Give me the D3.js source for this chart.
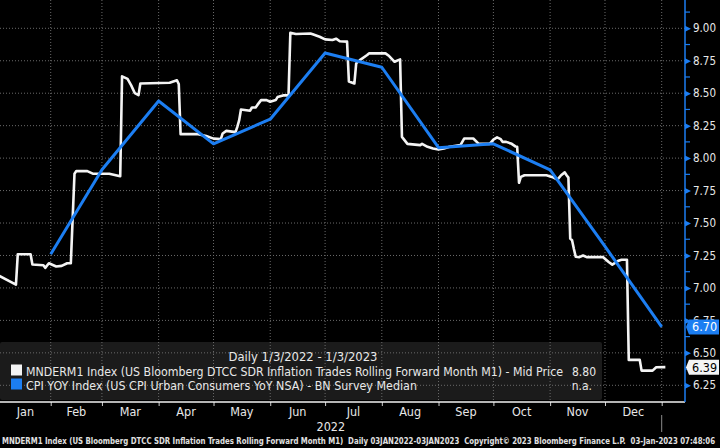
<!DOCTYPE html>
<html><head><meta charset="utf-8">
<script src="https://cdn.jsdelivr.net/npm/d3@7"></script>
<style>
html,body{margin:0;padding:0;background:#000;}
svg{display:block;}
text{font-family:"DejaVu Sans Condensed","Liberation Sans Narrow","Roboto Condensed","DejaVu Sans",sans-serif;}
</style></head><body>
<svg id="c" width="720" height="448"></svg>
<script>
// ---------- DATA ----------
const mndDates = ["2022-01-03","2022-01-13","2022-01-14","2022-01-21","2022-01-22","2022-01-28","2022-01-29","2022-01-31","2022-02-04","2022-02-07","2022-02-10","2022-02-12","2022-02-14","2022-02-15","2022-02-21","2022-02-24","2022-03-05","2022-03-11","2022-03-12","2022-03-15","2022-03-17","2022-03-19","2022-03-21","2022-03-22","2022-04-07","2022-04-11","2022-04-12","2022-04-13","2022-04-22","2022-04-27","2022-05-01","2022-05-05","2022-05-06","2022-05-08","2022-05-13","2022-05-14","2022-05-15","2022-05-16","2022-05-21","2022-05-22","2022-05-24","2022-05-25","2022-05-27","2022-05-30","2022-06-01","2022-06-04","2022-06-05","2022-06-08","2022-06-11","2022-06-12","2022-06-15","2022-06-23","2022-06-25","2022-06-28","2022-07-01","2022-07-05","2022-07-07","2022-07-09","2022-07-13","2022-07-14","2022-07-17","2022-07-18","2022-07-20","2022-07-24","2022-07-25","2022-08-03","2022-08-05","2022-08-08","2022-08-10","2022-08-11","2022-08-12","2022-08-15","2022-08-22","2022-08-23","2022-08-26","2022-08-29","2022-09-01","2022-09-04","2022-09-07","2022-09-13","2022-09-15","2022-09-20","2022-09-23","2022-09-29","2022-10-01","2022-10-03","2022-10-05","2022-10-06","2022-10-08","2022-10-11","2022-10-13","2022-10-14","2022-10-15","2022-10-16","2022-10-18","2022-10-30","2022-11-02","2022-11-05","2022-11-07","2022-11-09","2022-11-10","2022-11-11","2022-11-12","2022-11-13","2022-11-14","2022-11-15","2022-11-17","2022-11-19","2022-11-21","2022-11-30","2022-12-03","2022-12-05","2022-12-08","2022-12-10","2022-12-13","2022-12-14","2022-12-20","2022-12-21","2022-12-27","2022-12-29","2023-01-03"];
const mndValues = [7.10,7.025,7.26,7.26,7.18,7.175,7.155,7.19,7.165,7.17,7.19,7.19,7.88,7.90,7.90,7.88,7.88,7.86,8.63,8.61,8.56,8.50,8.485,8.575,8.58,8.60,8.57,8.185,8.185,8.17,8.15,8.146,8.19,8.21,8.20,8.24,8.29,8.375,8.365,8.39,8.39,8.41,8.447,8.447,8.434,8.447,8.47,8.483,8.483,8.966,8.956,8.96,8.95,8.935,8.915,8.91,8.92,8.90,8.897,8.59,8.575,8.73,8.755,8.794,8.807,8.807,8.786,8.742,8.755,8.76,8.164,8.11,8.10,8.11,8.087,8.074,8.066,8.074,8.087,8.10,8.151,8.151,8.11,8.11,8.143,8.16,8.146,8.125,8.125,8.11,8.09,8.087,7.81,7.855,7.868,7.868,7.855,7.835,7.868,7.89,7.868,7.85,7.38,7.367,7.30,7.24,7.237,7.25,7.237,7.237,7.20,7.18,7.207,7.217,7.217,6.446,6.446,6.363,6.363,6.389,6.39];

const cpiDates = ["2022-02-01","2022-03-01","2022-04-01","2022-05-01","2022-06-01","2022-07-01","2022-08-01","2022-09-01","2022-10-01","2022-11-01","2022-12-01","2023-01-01"];
const cpiValues = [7.26,7.91,8.44,8.11,8.30,8.81,8.70,8.08,8.11,7.91,7.32,6.70];

const yTicks = [6.25,6.50,6.75,7.00,7.25,7.50,7.75,8.00,8.25,8.50,8.75,9.00];
const monthLabels = ["Jan","Feb","Mar","Apr","May","Jun","Jul","Aug","Sep","Oct","Nov","Dec"];
const yearLabel = "2022";
const legendTitle = "Daily 1/3/2022 - 1/3/2023";
const legendNames = ["MNDERM1 Index (US Bloomberg DTCC SDR Inflation Trades Rolling Forward Month M1) - Mid Price","CPI YOY Index (US CPI Urban Consumers YoY NSA) - BN Survey Median"];
const legendValues = ["8.80","n.a."];
const lastLabels = ["6.70","6.39"];
const footerText = "MNDERM1 Index (US Bloomberg DTCC SDR Inflation Trades Rolling Forward Month M1)  Daily 03JAN2022-03JAN2023  Copyright\u00A9 2023 Bloomberg Finance L.P.  03-Jan-2023 07:48:06";

// ---------- SETUP ----------
const WHITE = "#f4f4f4", BLUE = "#1c7ef2", GRID = "#6a6a6a", TXT = "#e8e8e8";
const parse = d3.utcParse("%Y-%m-%d");
const mnd = mndDates.map((d,i)=>({date:parse(d), v:mndValues[i]}));
const cpi = cpiDates.map((d,i)=>({date:parse(d), v:cpiValues[i]}));

const plotR = 685, plotB = 402;
const x = d3.scaleUtc().domain([parse("2022-01-01"), parse("2023-01-01")]).range([-6, 661.7]);
const y = d3.scaleLinear().domain([6.25, 9.00]).range([385.3, 28.3]);

const svg = d3.select("#c");
svg.append("rect").attr("width",720).attr("height",448).attr("fill","#000");
svg.append("defs").append("clipPath").attr("id","clip")
  .append("rect").attr("x",0).attr("y",0).attr("width",plotR).attr("height",plotB);

// legend box (under grid)
svg.append("rect").attr("x",0).attr("y",342).attr("width",602).attr("height",58).attr("rx",2).attr("fill","#1b1b1b");

// grid
const monthStarts = d3.utcMonths(parse("2022-02-01"), parse("2023-01-02"));
const grid = svg.append("g");
grid.selectAll("line.h").data(yTicks).join("line").attr("class","h")
  .attr("x1",0).attr("x2",plotR).attr("y1",d=>y(d)).attr("y2",d=>y(d))
  .attr("stroke",GRID).attr("stroke-dasharray","1,2");
grid.selectAll("line.v").data(monthStarts).join("line").attr("class","v")
  .attr("x1",d=>x(d)).attr("x2",d=>x(d)).attr("y1",0).attr("y2",plotB)
  .attr("stroke",GRID).attr("stroke-dasharray","1,2");

// lines
const line = d3.line().x(d=>x(d.date)).y(d=>y(d.v));
const lines = svg.append("g").attr("clip-path","url(#clip)");
lines.append("path").datum(mnd).attr("d",line).attr("fill","none")
  .attr("stroke",WHITE).attr("stroke-width",2.6).attr("stroke-linejoin","round");
lines.append("path").datum(cpi).attr("d",line).attr("fill","none")
  .attr("stroke",BLUE).attr("stroke-width",3).attr("stroke-linejoin","round");

// x axis
const xAxis = d3.axisBottom(x).tickValues(monthStarts).tickSize(4).tickFormat("");
const gx = svg.append("g").attr("transform",`translate(0,${plotB})`).call(xAxis);
gx.select(".domain").remove();
gx.selectAll(".tick line").attr("stroke","#cfcfcf");
svg.append("line").attr("x1",0).attr("x2",plotR).attr("y1",plotB).attr("y2",plotB)
  .attr("stroke","#f0f0f0").attr("stroke-width",1.5);

const months = d3.utcMonths(parse("2022-01-01"), parse("2023-01-01"));
svg.append("g").selectAll("text").data(months).join("text")
  .attr("x",d=>(Math.max(0,x(d)) + x(d3.utcMonth.offset(d,1)))/2)
  .attr("y",416).attr("text-anchor","middle").attr("fill",TXT).attr("font-size",12.5)
  .text((d,i)=>monthLabels[i]);
svg.append("text").attr("x",(0 + x(parse("2023-01-01")))/2).attr("y",431)
  .attr("text-anchor","middle").attr("fill",TXT).attr("font-size",12.5).text(yearLabel);
svg.append("line").attr("x1",x(parse("2023-01-01"))).attr("x2",x(parse("2023-01-01")))
  .attr("y1",415).attr("y2",432).attr("stroke","#8a8a8a");

// right axis
const minorTicks = d3.range(6.375, 9.2, 0.25);
svg.append("g").selectAll("line").data(minorTicks).join("line")
  .attr("x1",plotR).attr("x2",plotR+5).attr("y1",d=>y(d)).attr("y2",d=>y(d))
  .attr("stroke",BLUE).attr("stroke-width",1.2);
const yAxis = d3.axisRight(y).tickValues(yTicks).tickSize(0).tickPadding(8).tickFormat(d3.format(".2f"));
const gy = svg.append("g").attr("transform",`translate(${plotR},0)`).call(yAxis);
gy.select(".domain").remove();
gy.selectAll(".tick text").attr("fill",TXT).attr("font-size",11.5)
  .attr("font-family",'"DejaVu Sans Condensed","Liberation Sans Narrow","DejaVu Sans",sans-serif');
gy.selectAll(".tick").append("path").attr("d","M0,-3L6,0L0,3Z").attr("fill",BLUE);
svg.append("line").attr("x1",plotR).attr("x2",plotR).attr("y1",0).attr("y2",plotB)
  .attr("stroke",BLUE).attr("stroke-width",1.5);

// last value tags
function tag(val, label, fill, color){
  const yc = y(val);
  const g = svg.append("g");
  g.append("path").attr("d",`M${plotR+1},${yc}L${plotR+4},${yc-7.5}L719,${yc-7.5}L719,${yc+7.5}L${plotR+4},${yc+7.5}Z`)
    .attr("fill",fill);
  g.append("text").attr("x",plotR+7).attr("y",yc+4.5).attr("fill",color).attr("font-size",12.5).text(label);
}
tag(cpiValues[cpiValues.length-1], lastLabels[0], BLUE, "#ffffff");
tag(mndValues[mndValues.length-1], lastLabels[1], "#f4f4f4", "#000000");

// legend text
svg.append("text").attr("x",303).attr("y",360.5).attr("text-anchor","middle").attr("fill",TXT)
  .attr("font-size",12.5).attr("textLength",149).attr("lengthAdjust","spacingAndGlyphs").text(legendTitle);
const legColors = [WHITE, BLUE];
const legY = [376, 390];
const legLen = [537, 391];
const valX = [596, 592];
legendNames.forEach((n,i)=>{
  svg.append("rect").attr("x",11).attr("y",legY[i]-11.5).attr("width",11).attr("height",11).attr("fill",legColors[i]);
  svg.append("text").attr("x",26).attr("y",legY[i]).attr("fill",TXT).attr("font-size",12.5)
    .attr("textLength",legLen[i]).attr("lengthAdjust","spacingAndGlyphs").text(n);
  svg.append("text").attr("x",valX[i]).attr("y",legY[i]).attr("text-anchor","end").attr("fill",TXT)
    .attr("font-size",12).text(legendValues[i]);
});

// footer
svg.append("text").attr("x",2).attr("y",443.5).attr("fill","#e0e0e0").attr("font-size",9.5)
  .attr("font-weight","bold").attr("textLength",713).attr("lengthAdjust","spacingAndGlyphs")
  .style("white-space","pre").text(footerText);
</script>
</body></html>
